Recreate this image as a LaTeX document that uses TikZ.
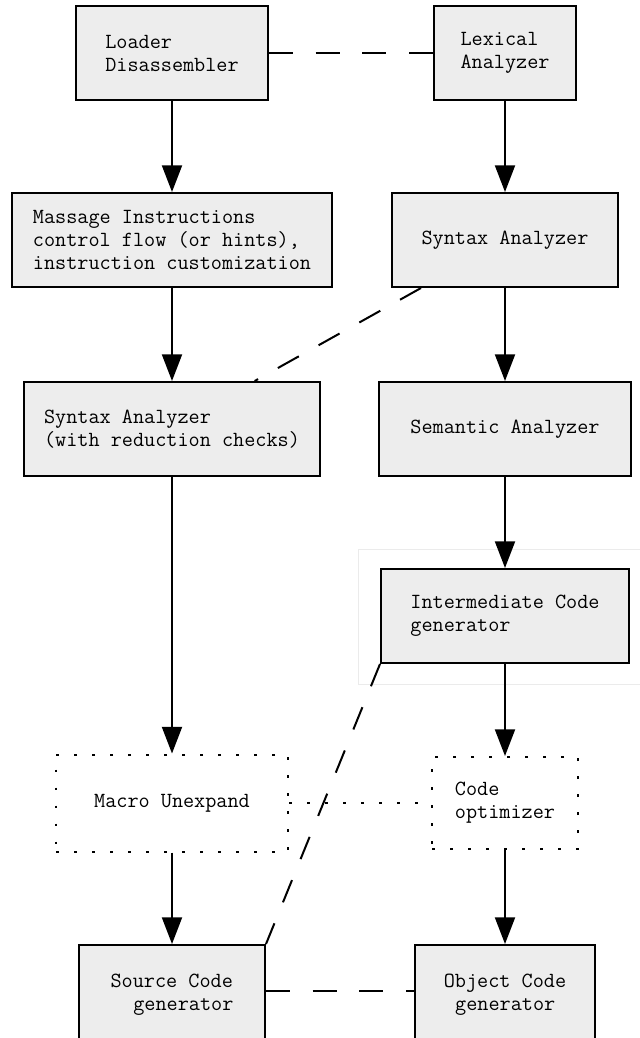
\documentclass[tikz,border=0pt]{standalone}
\usepackage{fontspec}
\usetikzlibrary{arrows.meta}

\begin{document}
\begin{tikzpicture}[x=0.75pt,y=-0.75pt,
   phase/.style={draw,line width=1.5pt,fill=black!7,minimum width=#1,minimum height=70.5pt,
      inner sep=0pt,align=left,font=\ttfamily\fontsize{16.2}{17.25}\selectfont},
   optional/.style={phase=#1,fill=none,dash pattern=on 2pt off 11.5pt},
   flow/.style={line width=1.5pt,-{Triangle[length=20pt,width=15pt]}},
   link/.style={line width=1.5pt,dash pattern=on 18pt off 17pt},
   weak/.style={line width=1.5pt,dash pattern=on 2pt off 11.5pt}]
   \useasboundingbox (0,0) rectangle (639,1038);

   % frame left around the code generator
   \draw[black!8,line width=0.75pt] (358,549) rectangle (660,684);

   % decompiler side
   \node[phase=144pt](loader) at (172,53) {Loader\\Disassembler};
   \node[phase=240pt](massage) at (172,240) {Massage Instructions\\control flow (or hints),\\instruction customization};
   \node[phase=222pt](syntaxred) at (172,429) {Syntax Analyzer\\(with reduction checks)};
   \node[optional=174pt,minimum height=72.75pt](unexpand) at (172,803) {Macro Unexpand};
   \node[phase=139.5pt,minimum height=75pt](source) at (172,995) {Source Code\\\hspace*{1.05em}generator};

   % compiler side
   \node[phase=106.5pt](lexical) at (505,53) {Lexical\\Analyzer};
   \node[phase=169.5pt](syntax) at (505,240) {Syntax Analyzer};
   \node[phase=189pt](semantic) at (505,429) {Semantic Analyzer};
   \node[phase=186pt](inter) at (505,616) {Intermediate Code\\generator};
   \node[optional=109.5pt,minimum height=69pt](optimizer) at (505,803) {Code\\optimizer};
   \node[phase=135pt,minimum height=75pt](object) at (505,995) {Object Code\\\hspace*{0.525em}generator};

   \draw[flow](loader) to (massage);
   \draw[flow](massage) to (syntaxred);
   \draw[flow](syntaxred) to (unexpand);
   \draw[flow](unexpand) to (source);
   \draw[flow](lexical) to (syntax);
   \draw[flow](syntax) to (semantic);
   \draw[flow](semantic) to (inter);
   \draw[flow](inter) to (optimizer);
   \draw[flow](optimizer) to (object);

   % correspondences between the two sides
   \draw[link](loader) to (lexical);
   \draw[link]([xshift=22.5pt]syntax.south west) to ([xshift=62pt]syntaxred.north);
   \draw[link](inter.south west) to (source.north east);
   \draw[weak](unexpand) to (optimizer);
   \draw[link]([yshift=3pt]source.east) to ([yshift=3pt]object.west);
\end{tikzpicture}
\end{document}
